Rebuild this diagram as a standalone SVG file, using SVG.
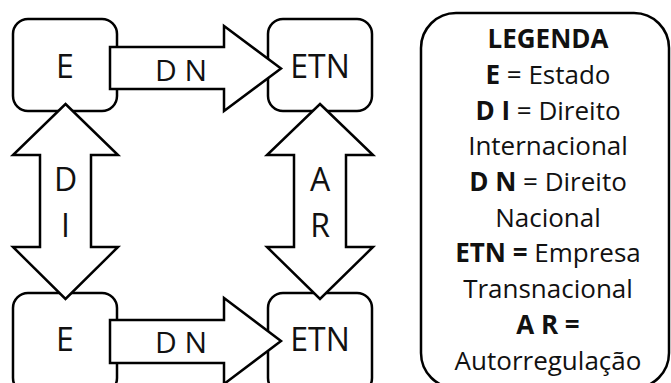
<svg xmlns="http://www.w3.org/2000/svg" width="671" height="383" viewBox="0 0 671 383">
  <style>
    .box { fill: #ffffff; stroke: #000000; stroke-width: 2.5; }
    .arrow { fill: #ffffff; stroke: #000000; stroke-width: 2.5; stroke-linejoin: miter; }
    .lbl { font-family: "Open Sans", "Liberation Sans", sans-serif; font-size: 32px; fill: #111111; text-anchor: middle; }
    .alb { font-family: "Open Sans", "Liberation Sans", sans-serif; font-size: 30px; fill: #111111; text-anchor: middle; }
    .leg { font-family: "Open Sans", "Liberation Sans", sans-serif; font-size: 26px; fill: #111111; text-anchor: middle; }
    .b { font-weight: bold; }
  </style>
  <rect width="671" height="383" fill="#ffffff"/>

  <!-- nodes -->
  <g id="estado-top">
    <rect class="box" x="13" y="19" width="104" height="92" rx="15"/>
    <text class="lbl" x="65" y="78">E</text>
  </g>
  <g id="etn-top">
    <rect class="box" x="268" y="19" width="104" height="92" rx="15"/>
    <text class="lbl" x="320" y="78">ETN</text>
  </g>
  <g id="estado-bottom">
    <rect class="box" x="13" y="293" width="104" height="100" rx="15"/>
    <text class="lbl" x="65" y="351">E</text>
  </g>
  <g id="etn-bottom">
    <rect class="box" x="268" y="293" width="104" height="100" rx="15"/>
    <text class="lbl" x="320" y="351">ETN</text>
  </g>

  <!-- connectors: block arrows drawn over the boxes -->
  <g id="connectors">
    <g id="dn-top">
      <polygon class="arrow" points="110,47 224,47 224,26 281,68.5 224,111 224,89 110,89"/>
      <text class="alb" x="181" y="81">D N</text>
    </g>
    <g id="dn-bottom">
      <polygon class="arrow" points="110,320 224,320 224,298 281,341 224,384 224,363 110,363"/>
      <text class="alb" x="181" y="353">D N</text>
    </g>
    <g id="di">
      <polygon class="arrow" points="65.5,104 118,155 91,155 91,247 118,247 65.5,299 13,247 40,247 40,155 13,155"/>
      <text class="lbl" x="65.5" y="191">D</text>
      <text class="lbl" x="65.5" y="237">I</text>
    </g>
    <g id="ar">
      <polygon class="arrow" points="320,104 373,155 346,155 346,247 373,247 320,299 267,247 294,247 294,155 267,155"/>
      <text class="lbl" x="320" y="191">A</text>
      <text class="lbl" x="320" y="237">R</text>
    </g>
  </g>

  <!-- legend -->
  <g id="legenda">
    <rect class="box" x="421" y="13" width="248" height="375" rx="35"/>
    <text class="leg b" x="548" y="48">LEGENDA</text>
    <text class="leg" x="548" y="84"><tspan class="b">E</tspan> = Estado</text>
    <text class="leg" x="548" y="120"><tspan class="b">D I</tspan> = Direito</text>
    <text class="leg" x="548" y="155">Internacional</text>
    <text class="leg" x="548" y="191"><tspan class="b">D N</tspan> = Direito</text>
    <text class="leg" x="548" y="227">Nacional</text>
    <text class="leg" x="548" y="262"><tspan class="b">ETN =</tspan> Empresa</text>
    <text class="leg" x="548" y="298">Transnacional</text>
    <text class="leg b" x="548" y="334">A R =</text>
    <text class="leg" x="548" y="370">Autorregulação</text>
  </g>
</svg>
